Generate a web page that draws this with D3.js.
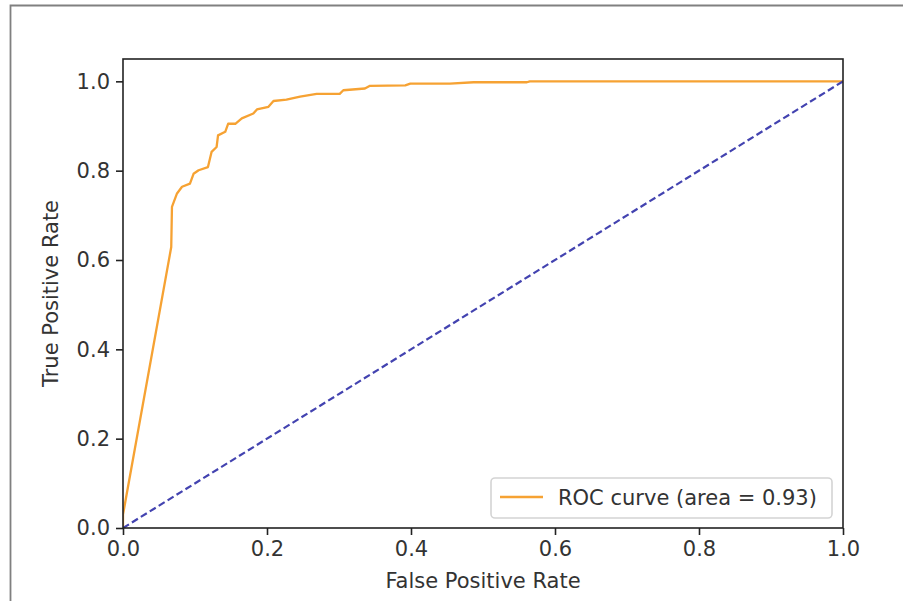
<!DOCTYPE html>
<html>
<head>
<meta charset="utf-8">
<script src="https://cdn.jsdelivr.net/npm/d3@7/dist/d3.min.js"></script>
<style>
  html, body { margin: 0; padding: 0; background: #fff; }
  svg { display: block; }
  text { font-family: "DejaVu Sans", sans-serif; }
</style>
</head>
<body>
<script>
// ROC curve points
const fpr = [0, 0, 0.067, 0.068, 0.075, 0.082, 0.093, 0.098, 0.105, 0.118, 0.123, 0.130, 0.132, 0.142, 0.146, 0.156, 0.165, 0.181, 0.186, 0.202, 0.209, 0.227, 0.246, 0.269, 0.301, 0.306, 0.336, 0.343, 0.392, 0.399, 0.454, 0.487, 0.561, 0.565, 1.0];
const tpr = [0, 0.03, 0.629, 0.719, 0.749, 0.764, 0.771, 0.793, 0.801, 0.808, 0.842, 0.853, 0.879, 0.887, 0.905, 0.905, 0.917, 0.928, 0.937, 0.943, 0.956, 0.959, 0.966, 0.972, 0.972, 0.980, 0.984, 0.990, 0.991, 0.995, 0.995, 0.998, 0.998, 1.0, 1.0];
const chanceX = [0, 1];
const chanceY = [0, 1];
const xTicks = [0, 0.2, 0.4, 0.6, 0.8, 1.0];
const yTicks = [0, 0.2, 0.4, 0.6, 0.8, 1.0];
const legendLabel = "ROC curve (area = 0.93)";
const xLabel = "False Positive Rate";
const yLabel = "True Positive Rate";

const W = 903, H = 601;
const L = 123, R = 843, T = 59, B = 528;
const FS = 21;
const orange = "#f6a233";
const navy = "#4343b0";
const ink = "#333333";

const svg = d3.select("body").append("svg").attr("width", W).attr("height", H);

// outer frame (cropped screenshot border)
svg.append("path").attr("d", `M10.5,${H} L10.5,5.5 L${W},5.5`)
  .attr("fill", "none").attr("stroke", "#808080").attr("stroke-width", 1.8);

const x = d3.scaleLinear().domain([0, 1]).range([L, R]);
const y = d3.scaleLinear().domain([0, 1.05]).range([B, T]);

const line = d3.line().x(d => x(d[0])).y(d => y(d[1]));

svg.append("clipPath").attr("id", "clip").append("rect")
  .attr("x", L).attr("y", T).attr("width", R - L).attr("height", B - T);

const g = svg.append("g").attr("clip-path", "url(#clip)");

g.append("path").datum(fpr.map((v, i) => [v, tpr[i]]))
  .attr("d", line).attr("fill", "none")
  .attr("stroke", orange).attr("stroke-width", 2.3).attr("stroke-linejoin", "round");

g.append("path").datum(chanceX.map((v, i) => [v, chanceY[i]]))
  .attr("d", line).attr("fill", "none")
  .attr("stroke", navy).attr("stroke-width", 2.2).attr("stroke-dasharray", "7,3.5");

// axes
const xAxis = d3.axisBottom(x).tickValues(xTicks).tickFormat(d3.format(".1f")).tickSize(7).tickPadding(6);
const yAxis = d3.axisLeft(y).tickValues(yTicks).tickFormat(d3.format(".1f")).tickSize(7).tickPadding(6);

const gx = svg.append("g").attr("transform", `translate(0,${B})`).call(xAxis);
const gy = svg.append("g").attr("transform", `translate(${L},0)`).call(yAxis);
[gx, gy].forEach(a => {
  a.select(".domain").remove();
  a.selectAll(".tick line").attr("stroke", "#222").attr("stroke-width", 1.6);
  a.selectAll(".tick text").attr("fill", ink).style("font-size", FS + "px")
    .style("font-family", "'DejaVu Sans', sans-serif");
});

// spines
svg.append("rect").attr("x", L).attr("y", T).attr("width", R - L).attr("height", B - T)
  .attr("fill", "none").attr("stroke", "#222").attr("stroke-width", 1.6);

// labels
svg.append("text").attr("x", (L + R) / 2).attr("y", 588).attr("text-anchor", "middle")
  .attr("fill", ink).style("font-size", FS + "px").text(xLabel);
svg.append("text").attr("transform", `translate(58,${(T + B) / 2}) rotate(-90)`)
  .attr("text-anchor", "middle").attr("fill", ink).style("font-size", FS + "px").text(yLabel);

// legend
const lg = svg.append("g");
lg.append("rect").attr("x", 491).attr("y", 478).attr("width", 341).attr("height", 40)
  .attr("rx", 4).attr("fill", "#fff").attr("fill-opacity", 0.8)
  .attr("stroke", "#d4d4d4").attr("stroke-width", 1.6);
lg.append("line").attr("x1", 500).attr("x2", 543).attr("y1", 497).attr("y2", 497)
  .attr("stroke", orange).attr("stroke-width", 2.3);
lg.append("text").attr("x", 558).attr("y", 505).attr("fill", ink)
  .style("font-size", FS + "px").text(legendLabel);
</script>
</body>
</html>
